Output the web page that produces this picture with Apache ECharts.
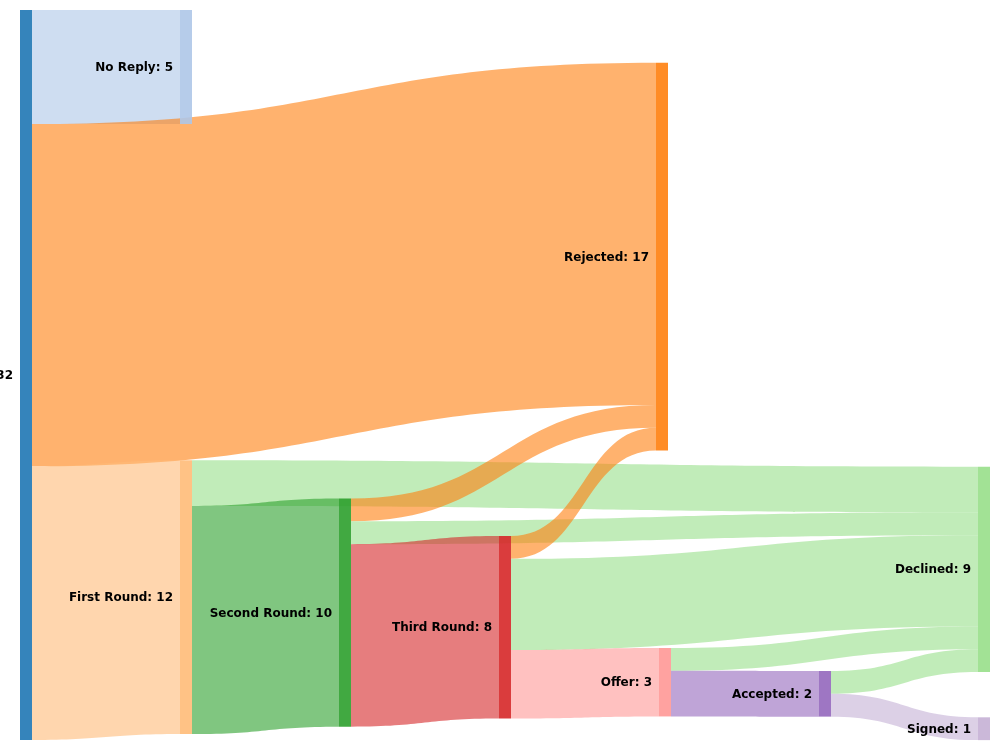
<!DOCTYPE html>
<html>
<head>
<meta charset="utf-8">
<script src="https://cdn.jsdelivr.net/npm/echarts@6/dist/echarts.min.js"></script>
<style>
html,body{margin:0;padding:0;background:#fff;}
#chart{width:1000px;height:750px;}
</style>
</head>
<body>
<div id="chart"></div>
<script>
// ---- data ----
const nodeNames  = ['Applications','No Reply','Rejected','First Round','Second Round','Third Round','Declined','Offer','Accepted','Signed'];
const nodeValues = [32, 5, 17, 12, 10, 8, 9, 3, 2, 1];
const linkSources = ['Applications','Applications','Applications','First Round','First Round','Second Round','Second Round','Second Round','Third Round','Third Round','Third Round','Offer','Offer','Accepted','Accepted'];
const linkTargets = ['No Reply','Rejected','First Round','Declined','Second Round','Rejected','Declined','Third Round','Rejected','Declined','Offer','Declined','Accepted','Declined','Signed'];
const linkValues  = [5, 15, 12, 2, 10, 1, 1, 8, 1, 4, 3, 1, 2, 1, 1];

// ---- styling / arrangement (fractions of the plot box, like a fixed sankey arrangement) ----
const nodeColors = {
  'Applications':'#1f77b4','No Reply':'#aec7e8','Rejected':'#ff7f0e','First Round':'#ffbb78',
  'Second Round':'#2ca02c','Third Round':'#d62728','Declined':'#98df8a','Offer':'#ff9896',
  'Accepted':'#9467bd','Signed':'#c5b0d5'
};
const PW = 970, PH = 730;
const nodeArrange = {
  'Applications': [0, 0],
  'No Reply':     [160/PW, 0],
  'Rejected':     [636/PW, 52.7/PH],
  'First Round':  [160/PW, 450.3/PH],
  'Second Round': [319/PW, 488.5/PH],
  'Third Round':  [479/PW, 526/PH],
  'Declined':     [958/PW, 456.7/PH],
  'Offer':        [639/PW, 638/PH],
  'Accepted':     [799/PW, 661/PH],
  'Signed':       [958/PW, 707.3/PH]
};

const nodes = nodeNames.map((n, i) => ({
  name: n,
  value: nodeValues[i],
  depth: i,
  localX: nodeArrange[n][0],
  localY: nodeArrange[n][1],
  itemStyle: { color: nodeColors[n], opacity: 0.9, borderWidth: 0 }
}));
const links = linkSources.map((s, i) => ({
  source: s,
  target: linkTargets[i],
  value: linkValues[i],
  lineStyle: { color: nodeColors[linkTargets[i]], opacity: 0.6 }
}));

const chart = echarts.init(document.getElementById('chart'), null, {renderer: 'canvas'});
chart.setOption({
  animation: false,
  series: [{
    type: 'sankey',
    left: 20, top: 10, right: 10, bottom: 10,
    nodeWidth: 12,
    nodeGap: 10,
    nodeAlign: 'left',
    layoutIterations: 0,
    draggable: false,
    emphasis: { disabled: true },
    data: nodes,
    links: links,
    label: {
      show: true,
      position: 'left',
      distance: 7,
      offset: [0, 1],
      color: '#000',
      fontFamily: 'DejaVu Sans',
      fontSize: 12,
      fontWeight: 'bold',
      formatter: p => p.name + ': ' + p.value
    },
    lineStyle: { curveness: 0.5 }
  }]
});
</script>
</body>
</html>
